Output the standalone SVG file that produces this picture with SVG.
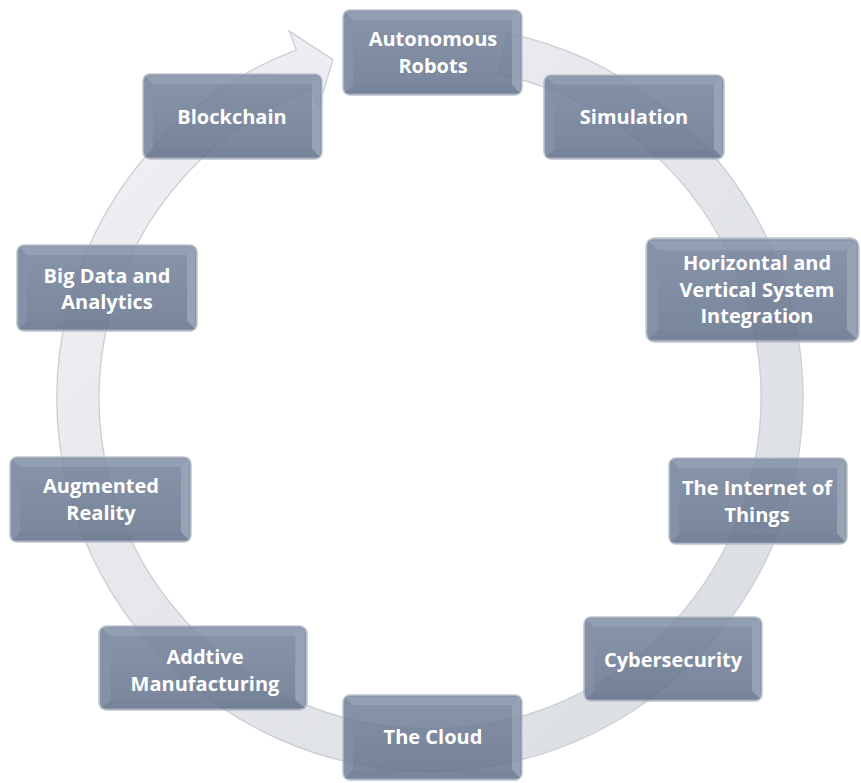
<svg xmlns="http://www.w3.org/2000/svg" xmlns:xlink="http://www.w3.org/1999/xlink" width="861" height="783" viewBox="0 0 861 783">
<style>
.lbl{font-family:"Open Sans","Liberation Sans",Arial,sans-serif;font-weight:bold;font-size:20px;fill:#ffffff;text-anchor:middle}
.box{opacity:0.86}
.ring{fill:url(#ringGrad);stroke:#ccd0d7;stroke-width:1.4}
</style>
<defs>
<linearGradient id="ringGrad" x1="0" y1="0" x2="1" y2="1">
<stop offset="0" stop-color="#f1f2f4"/>
<stop offset="0.5" stop-color="#e4e6ea"/>
<stop offset="1" stop-color="#d9dce2"/>
</linearGradient>
<linearGradient id="faceGrad" x1="0" y1="0" x2="0" y2="1">
<stop offset="0" stop-color="#73819a"/>
<stop offset="1" stop-color="#66748c"/>
</linearGradient>
<symbol id="box" viewBox="0 0 181 87" preserveAspectRatio="none">
<rect x="1" y="1" width="179" height="85" rx="7" fill="#76849b" stroke="#b3bac6" stroke-width="1.5"/>
<polygon points="3,3 178,3 170,11 11,11" fill="#8290a7"/>
<polygon points="3,3 11,11 11,76 3,84" fill="#72809a"/>
<polygon points="178,3 178,84 170,76 170,11" fill="#8794aa"/>
<polygon points="3,84 11,76 170,76 178,84" fill="#637089"/>
<rect x="11" y="11" width="159" height="65" fill="url(#faceGrad)"/>
</symbol>
</defs>
<rect width="861" height="783" fill="#ffffff"/>
<g id="connectors">
<path class="ring" d="M 507.6 33.2 A 373 373 0 1 1 296.3 49.8 L 289.2 31.1 L 333.0 59.6 L 318.5 107.7 L 311.4 89.0 A 331 331 0 1 0 498.8 74.2 Z"/>
</g>
<g id="autonomous-robots">
<use class="box" xlink:href="#box" x="342" y="9" width="181" height="87"/>
<text class="lbl" x="433" y="46">Autonomous</text>
<text class="lbl" x="433" y="73">Robots</text>
</g>
<g id="simulation">
<use class="box" xlink:href="#box" x="543" y="74" width="182" height="86"/>
<text class="lbl" x="634" y="124">Simulation</text>
</g>
<g id="horizontal-vertical">
<use class="box" xlink:href="#box" x="645" y="237" width="215" height="106"/>
<text class="lbl" x="757" y="270">Horizontal and</text>
<text class="lbl" x="757" y="297">Vertical System</text>
<text class="lbl" x="757" y="323">Integration</text>
</g>
<g id="internet-of-things">
<use class="box" xlink:href="#box" x="668" y="457" width="180" height="88"/>
<text class="lbl" x="757" y="495">The Internet of</text>
<text class="lbl" x="757" y="522">Things</text>
</g>
<g id="cybersecurity">
<use class="box" xlink:href="#box" x="583" y="616" width="180" height="86"/>
<text class="lbl" x="673" y="667">Cybersecurity</text>
</g>
<g id="the-cloud">
<use class="box" xlink:href="#box" x="342" y="694" width="181" height="87"/>
<text class="lbl" x="433" y="744">The Cloud</text>
</g>
<g id="additive-manufacturing">
<use class="box" xlink:href="#box" x="98" y="625" width="210" height="86"/>
<text class="lbl" x="205" y="664">Addtive</text>
<text class="lbl" x="205" y="691">Manufacturing</text>
</g>
<g id="augmented-reality">
<use class="box" xlink:href="#box" x="9" y="456" width="183" height="87"/>
<text class="lbl" x="101" y="493">Augmented</text>
<text class="lbl" x="101" y="520">Reality</text>
</g>
<g id="big-data">
<use class="box" xlink:href="#box" x="16" y="244" width="182" height="88"/>
<text class="lbl" x="107" y="283">Big Data and</text>
<text class="lbl" x="107" y="309">Analytics</text>
</g>
<g id="blockchain">
<use class="box" xlink:href="#box" x="142" y="73" width="181" height="87"/>
<text class="lbl" x="232" y="124">Blockchain</text>
</g>
</svg>
